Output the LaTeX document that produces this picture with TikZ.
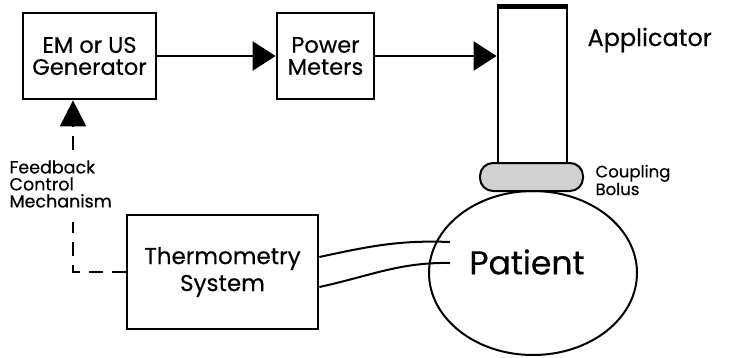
\documentclass[tikz,border=0pt]{standalone}
\usepackage{fontspec}
\setmainfont{Poppins}[FakeBold=0.4]
\usetikzlibrary{arrows.meta,shapes.geometric}
\begin{document}
\begin{tikzpicture}[x=1pt,y=-1pt,
  box/.style={draw,line width=2.8pt,inner sep=0pt,align=center},
  arr/.style={line width=2.4pt,-{Triangle[length=23pt,width=29pt]}},
  fb/.style={line width=2.2pt,dash pattern=on 14pt off 9pt},
  wire/.style={line width=2pt}]
\useasboundingbox (0,0) rectangle (730,357);
\node[box,minimum width=133pt,minimum height=86pt,font=\fontsize{22.5}{22}\selectfont] (gen) at (89.5,56) {EM or US\\Generator};
\node[box,minimum width=97pt,minimum height=86pt,font=\fontsize{22.5}{22}\selectfont] (pm) at (325.5,56) {Power\\Meters};
\node[box,minimum width=69pt,minimum height=155pt] (app) at (532.5,85.5) {};
\draw[line width=4.5pt] (app.north west) -- (app.north east);
\node[anchor=west,font=\fontsize{24}{26}\selectfont] (applbl) at (584,40) {Applicator};
\node[draw,line width=2pt,fill=black!18,rounded corners=13pt,minimum width=103pt,minimum height=28pt] (bolus) at (531.5,177) {};
\node[anchor=west,align=left,font=\fontsize{16.5}{16}\selectfont] (bollbl) at (592,180) {Coupling\\Bolus};
\node[draw,ellipse,line width=2pt,minimum width=208pt,minimum height=164pt,inner sep=0pt] (pat) at (533,273) {};
\node[font=\fontsize{33}{36}\selectfont] (patlbl) at (527,262) {Patient};
\node[box,minimum width=191pt,minimum height=114pt,font=\fontsize{23}{27}\selectfont] (thermo) at (222.5,272) {Thermometry\\System};
\node[anchor=west,align=left,font=\fontsize{17.5}{17}\selectfont] (fblbl) at (6,184) {Feedback\\Control\\Mechanism};
\draw[arr] (gen.east) -- (pm.west);
\draw[arr] (pm.east) -- (pm.east -| app.west);
\coordinate (corner) at (73,272);
\coordinate (fbmid) at (73,222);
\coordinate (fbtop) at (73,150);
\draw[fb] (thermo.west) -- (corner) -- (fbmid);
\draw[fb,-{Triangle[length=26pt,width=26pt]}] (fbtop) -- (fbtop |- gen.south);
\coordinate (w1) at (450,242);
\coordinate (w2) at (450,263);
\draw[wire] ([yshift=15pt]thermo.east) .. controls (370,246) and (400,240) .. (w1);
\draw[wire] ([yshift=-15pt]thermo.east) .. controls (370,276) and (400,262) .. (w2);
\end{tikzpicture}
\end{document}
